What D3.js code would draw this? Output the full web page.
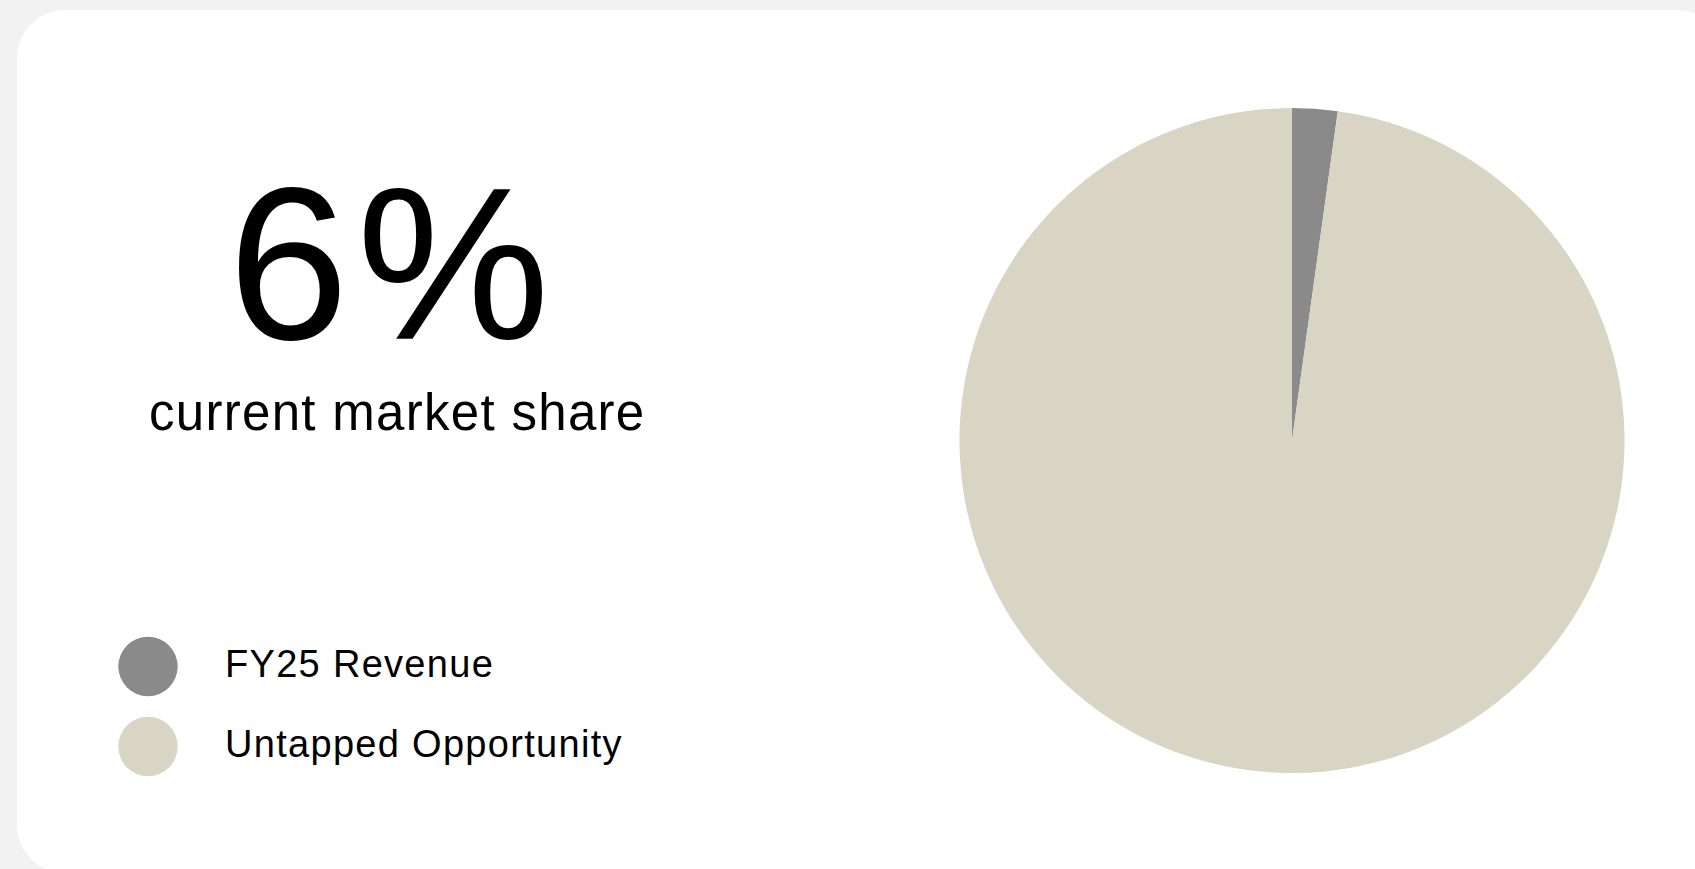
<!DOCTYPE html>
<html>
<head>
<meta charset="utf-8">
<script src="https://cdn.jsdelivr.net/npm/d3@7"></script>
<style>
  html, body { margin: 0; padding: 0; background: #f2f2f2; overflow: hidden; }
  svg { display: block; }
  text { font-family: "Liberation Sans", Arial, Helvetica, sans-serif; fill: #000; }
</style>
</head>
<body>
<svg id="chart" width="1695" height="869"></svg>
<script>
// Market share breakdown
const categories = ["FY25 Revenue", "Untapped Opportunity"];
const shareValues = [2.2, 97.8];
const colors = ["#8a8a8a", "#d8d5c5"];
const headline = "6%";
const headlineCaption = "current market share";

const svg = d3.select("#chart");

// Card
svg.append("rect")
  .attr("x", 17).attr("y", 10)
  .attr("width", 1708).attr("height", 863)
  .attr("rx", 48).attr("ry", 48)
  .attr("fill", "#ffffff");

// Headline figure
svg.append("text")
  .attr("x", 228).attr("y", 339)
  .attr("font-size", 217)
  .attr("letter-spacing", 8)
  .text(headline);

svg.append("text")
  .attr("x", 149).attr("y", 430)
  .attr("font-size", 51)
  .attr("letter-spacing", 1.3)
  .text(headlineCaption);

// Legend
const color = d3.scaleOrdinal().domain(categories).range(colors);
const legendY = d3.scalePoint().domain(categories).range([666.5, 746.5]);

const legend = svg.append("g");
const item = legend.selectAll("g").data(categories).join("g")
  .attr("transform", d => `translate(0,${legendY(d)})`);
item.append("circle")
  .attr("cx", 148).attr("cy", 0).attr("r", 29.7)
  .attr("fill", d => color(d));
item.append("text")
  .attr("x", 225).attr("y", 10.5)
  .attr("font-size", 38)
  .attr("letter-spacing", 1.3)
  .text(d => d);

// Pie
const pie = d3.pie().sort(null).value(d => d.value);
const arc = d3.arc().innerRadius(0).outerRadius(332.5);
const data = categories.map((c, i) => ({ name: c, value: shareValues[i] }));

svg.append("g")
  .attr("transform", "translate(1292,440.5)")
  .selectAll("path").data(pie(data)).join("path")
  .attr("d", arc)
  .attr("fill", d => color(d.data.name));
</script>
</body>
</html>
